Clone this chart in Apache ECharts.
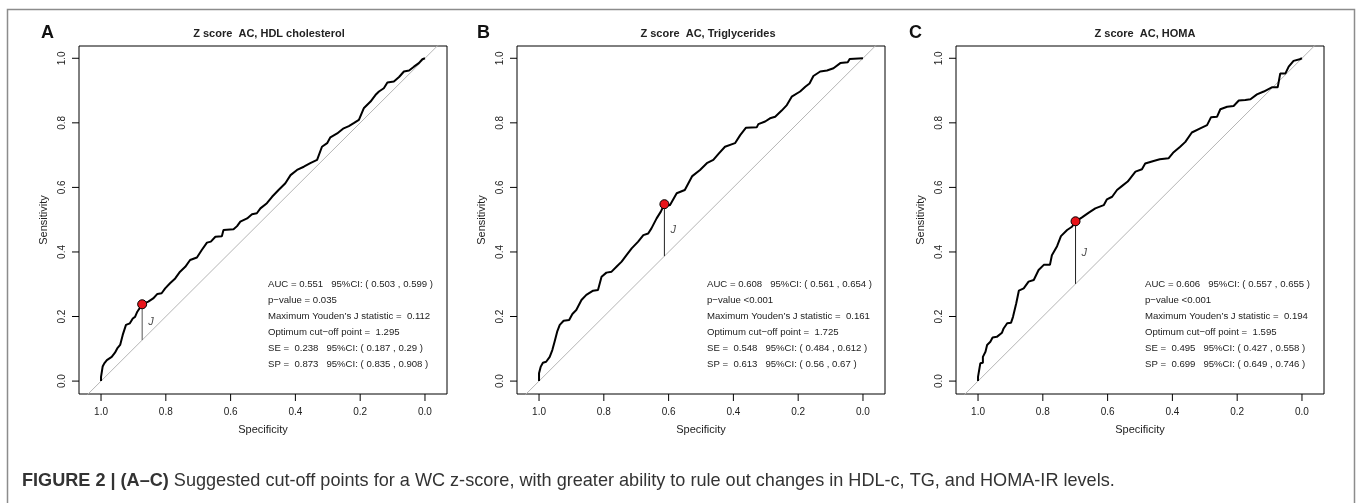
<!DOCTYPE html>
<html>
<head>
<meta charset="utf-8">
<script src="https://cdn.jsdelivr.net/npm/echarts@6/dist/echarts.min.js"></script>
<style>
html,body{margin:0;padding:0;background:#fff;}
#chart{width:1357px;height:503px;}
</style>
</head>
<body>
<div id="chart"></div>
<script>
// ---------- DATA ----------
const tickValues = [0, 0.2, 0.4, 0.6, 0.8, 1.0];

const panelLetters = ['A', 'B', 'C'];
const panelTitles = ['Z score  AC, HDL cholesterol', 'Z score  AC, Triglycerides', 'Z score  AC, HOMA'];
const xAxisName = 'Specificity';
const yAxisName = 'Sensitivity';

// ROC curves: [specificity, sensitivity]
const rocA = [
  [1.0,0.0],[1.0,0.013],[0.995,0.045],[0.99,0.055],[0.982,0.065],[0.967,0.075],[0.957,0.088],[0.95,0.101],
  [0.941,0.112],[0.933,0.143],[0.923,0.174],[0.911,0.179],[0.902,0.194],[0.895,0.199],[0.888,0.215],[0.873,0.238],
  [0.854,0.246],[0.839,0.256],[0.826,0.27],[0.813,0.272],[0.802,0.287],[0.787,0.303],[0.771,0.318],[0.756,0.339],
  [0.74,0.354],[0.725,0.375],[0.704,0.383],[0.689,0.406],[0.673,0.429],[0.661,0.432],[0.647,0.447],[0.627,0.449],
  [0.622,0.468],[0.591,0.47],[0.58,0.48],[0.57,0.494],[0.549,0.504],[0.534,0.517],[0.519,0.52],[0.508,0.535],
  [0.488,0.551],[0.472,0.571],[0.452,0.592],[0.431,0.613],[0.415,0.638],[0.395,0.654],[0.374,0.664],[0.354,0.675],
  [0.333,0.685],[0.318,0.726],[0.302,0.737],[0.292,0.755],[0.271,0.767],[0.251,0.783],[0.235,0.79],[0.22,0.799],
  [0.204,0.809],[0.189,0.845],[0.168,0.866],[0.153,0.886],[0.142,0.897],[0.127,0.907],[0.116,0.925],[0.096,0.928],
  [0.08,0.942],[0.065,0.959],[0.049,0.962],[0.034,0.974],[0.019,0.985],[0.008,0.997],[0.0,1.0]
];
const rocB = [
  [1.0,0.0],[1.0,0.024],[0.995,0.044],[0.988,0.057],[0.978,0.06],[0.967,0.075],[0.959,0.096],[0.952,0.122],
  [0.944,0.153],[0.936,0.174],[0.924,0.187],[0.907,0.189],[0.897,0.208],[0.885,0.22],[0.869,0.251],[0.854,0.267],
  [0.833,0.28],[0.818,0.282],[0.807,0.323],[0.792,0.336],[0.776,0.339],[0.761,0.354],[0.745,0.37],[0.73,0.39],
  [0.714,0.411],[0.694,0.432],[0.678,0.452],[0.663,0.457],[0.653,0.473],[0.637,0.504],[0.624,0.525],[0.613,0.548],
  [0.596,0.545],[0.575,0.582],[0.55,0.592],[0.527,0.635],[0.503,0.654],[0.482,0.675],[0.462,0.685],[0.446,0.704],
  [0.426,0.726],[0.395,0.737],[0.379,0.762],[0.361,0.785],[0.328,0.786],[0.323,0.796],[0.302,0.804],[0.287,0.814],
  [0.271,0.819],[0.251,0.838],[0.235,0.855],[0.22,0.881],[0.194,0.897],[0.178,0.912],[0.165,0.922],[0.153,0.945],
  [0.132,0.959],[0.111,0.962],[0.091,0.969],[0.07,0.985],[0.047,0.988],[0.041,0.998],[0.0,1.0]
];
const rocC = [
  [1.0,0.0],[1.0,0.013],[0.995,0.019],[0.993,0.055],[0.985,0.057],[0.985,0.075],[0.977,0.091],[0.972,0.112],
  [0.962,0.122],[0.955,0.135],[0.942,0.137],[0.926,0.15],[0.921,0.163],[0.91,0.179],[0.898,0.181],[0.892,0.199],
  [0.882,0.241],[0.874,0.28],[0.859,0.287],[0.844,0.308],[0.828,0.313],[0.813,0.344],[0.797,0.36],[0.778,0.36],
  [0.772,0.39],[0.756,0.418],[0.744,0.449],[0.725,0.468],[0.71,0.478],[0.699,0.494],[0.679,0.507],[0.658,0.522],
  [0.638,0.535],[0.612,0.545],[0.602,0.563],[0.586,0.571],[0.571,0.592],[0.556,0.604],[0.538,0.618],[0.514,0.649],
  [0.494,0.656],[0.484,0.674],[0.458,0.682],[0.439,0.687],[0.412,0.69],[0.398,0.707],[0.376,0.726],[0.36,0.741],
  [0.34,0.77],[0.314,0.783],[0.293,0.793],[0.281,0.817],[0.262,0.819],[0.252,0.842],[0.231,0.85],[0.211,0.852],
  [0.195,0.869],[0.175,0.871],[0.159,0.873],[0.139,0.888],[0.118,0.897],[0.093,0.91],[0.075,0.91],[0.067,0.953],
  [0.051,0.953],[0.041,0.974],[0.026,0.992],[0.007,0.997],[0.0,1.0]
];

// Optimum (max Youden J) points: [specificity, sensitivity]
const jA = [0.873, 0.238];
const jB = [0.613, 0.548];
const jC = [0.699, 0.495];

// chance diagonal endpoints
const diagonal = [[1.1, -0.1], [-0.1, 1.1]];

const statsA = ['AUC = 0.551   95%CI: ( 0.503 , 0.599 )', 'p\u2212value = 0.035', 'Maximum Youden\u2019s J statistic =  0.112',
  'Optimum cut\u2212off point =  1.295', 'SE =  0.238   95%CI: ( 0.187 , 0.29 )', 'SP =  0.873   95%CI: ( 0.835 , 0.908 )'];
const statsB = ['AUC = 0.608   95%CI: ( 0.561 , 0.654 )', 'p\u2212value <0.001', 'Maximum Youden\u2019s J statistic =  0.161',
  'Optimum cut\u2212off point =  1.725', 'SE =  0.548   95%CI: ( 0.484 , 0.612 )', 'SP =  0.613   95%CI: ( 0.56 , 0.67 )'];
const statsC = ['AUC = 0.606   95%CI: ( 0.557 , 0.655 )', 'p\u2212value <0.001', 'Maximum Youden\u2019s J statistic =  0.194',
  'Optimum cut\u2212off point =  1.595', 'SE =  0.495   95%CI: ( 0.427 , 0.558 )', 'SP =  0.699   95%CI: ( 0.649 , 0.746 )'];

const captionBold = 'FIGURE 2 | (A\u2013C)';
const captionText = ' Suggested cut-off points for a WC z-score, with greater ability to rule out changes in HDL-c, TG, and HOMA-IR levels.';

// ---------- LAYOUT ----------
const FONT = '"Liberation Sans", Arial, Helvetica, sans-serif';
const X_MIN = -0.068, X_MAX = 1.068, Y_MIN = -0.040, Y_MAX = 1.038;
const gridLefts = [79, 517, 956];
const GRID_TOP = 46, GRID_W = 368, GRID_H = 348;
const rocs = [rocA, rocB, rocC];
const jPts = [jA, jB, jC];
const stats = [statsA, statsB, statsC];
const statLefts = [268, 707, 1145];
const titleCenters = [269, 708, 1145];
const letterLefts = [41, 477, 909];
const jLineColors = ['#555', '#222', '#222'];

const chart = echarts.init(document.getElementById('chart'));

const grids = [], xAxes = [], yAxes = [], series = [], graphics = [];

for (let i = 0; i < 3; i++) {
  grids.push({left: gridLefts[i], top: GRID_TOP, width: GRID_W, height: GRID_H, show: true, borderColor: '#000'});
  xAxes.push({type: 'value', gridIndex: i, inverse: true, min: X_MIN, max: X_MAX,
    axisLine: {show: false, onZero: false}, splitLine: {show: false}, axisTick: {show: false},
    axisLabel: {color: '#222', fontFamily: FONT, fontSize: 10, margin: 13, customValues: tickValues,
      formatter: v => v.toFixed(1)},
    name: xAxisName, nameLocation: 'middle', nameGap: 30,
    nameTextStyle: {color: '#222', fontFamily: FONT, fontSize: 11}});
  yAxes.push({type: 'value', gridIndex: i, min: Y_MIN, max: Y_MAX,
    axisLine: {show: false, onZero: false}, splitLine: {show: false}, axisTick: {show: false},
    axisLabel: {color: '#222', fontFamily: FONT, fontSize: 10, margin: 12, rotate: 90, customValues: tickValues,
      formatter: v => v.toFixed(1)},
    name: yAxisName, nameLocation: 'middle', nameGap: 30,
    nameTextStyle: {color: '#222', fontFamily: FONT, fontSize: 11}});

  // tick marks (outward, R style) placed through the axes' own scales
  series.push({type: 'scatter', xAxisIndex: i, yAxisIndex: i, clip: false, silent: true, z: 6,
    data: tickValues.map(v => [v, Y_MIN]), symbol: 'rect', symbolSize: [1, 7], symbolOffset: [0, 3.5],
    itemStyle: {color: '#000', opacity: 1}});
  series.push({type: 'scatter', xAxisIndex: i, yAxisIndex: i, clip: false, silent: true, z: 6,
    data: tickValues.map(v => [X_MAX, v]), symbol: 'rect', symbolSize: [7, 1], symbolOffset: [-3.5, 0],
    itemStyle: {color: '#000', opacity: 1}});

  series.push({type: 'line', xAxisIndex: i, yAxisIndex: i, data: diagonal, symbol: 'none', clip: true,
    lineStyle: {color: '#b5b5b5', width: 1}, silent: true, z: 1});
  series.push({type: 'line', xAxisIndex: i, yAxisIndex: i, data: rocs[i], symbol: 'none', clip: true,
    lineStyle: {color: '#000', width: 2}, silent: true, z: 3});
  const j = jPts[i];
  series.push({type: 'line', xAxisIndex: i, yAxisIndex: i, data: [[j[0], j[1]], [j[0], 1 - j[0]]], symbol: 'none',
    lineStyle: {color: jLineColors[i], width: 1}, silent: true, z: 2});
  series.push({type: 'scatter', xAxisIndex: i, yAxisIndex: i, data: [[j[0], (j[1] + 1 - j[0]) / 2]],
    symbolSize: 0, silent: true, z: 4,
    label: {show: true, formatter: 'J', position: 'right', distance: 6, color: '#222', fontStyle: 'italic',
      fontFamily: FONT, fontSize: 11}});
  series.push({type: 'scatter', xAxisIndex: i, yAxisIndex: i, data: [j], symbolSize: 9, silent: true, z: 5,
    itemStyle: {color: '#e8141a', borderColor: '#000', borderWidth: 1, opacity: 1}});

  graphics.push({type: 'text', left: letterLefts[i], top: 24,
    style: {text: panelLetters[i], font: 'bold 18px ' + FONT, fill: '#111'}});
  graphics.push({type: 'text', x: titleCenters[i], y: 34,
    style: {text: panelTitles[i], font: 'bold 11px ' + FONT, fill: '#222', textAlign: 'center', textVerticalAlign: 'middle'}});
  stats[i].forEach((s, k) => {
    graphics.push({type: 'text', x: statLefts[i], y: 284 + k * 16,
      style: {text: s, font: '9.6px ' + FONT, fill: '#222', textAlign: 'left', textVerticalAlign: 'middle'}});
  });
}

graphics.push({type: 'polyline', shape: {points: [[7.5, 530], [7.5, 9.5], [1354.5, 9.5], [1354.5, 530]]},
  style: {fill: null, stroke: '#8c8c8c', lineWidth: 1.5}, silent: true});
graphics.push({type: 'text', x: 22, y: 481,
  style: {text: '{b|' + captionBold + '}{r|' + captionText + '}', textVerticalAlign: 'middle',
    rich: {b: {font: 'bold 18.1px ' + FONT, fill: '#333'}, r: {font: '18.1px ' + FONT, fill: '#333'}}}});

chart.setOption({
  animation: false,
  backgroundColor: '#fff',
  grid: grids, xAxis: xAxes, yAxis: yAxes, series: series, graphic: graphics
});
</script>
</body>
</html>
